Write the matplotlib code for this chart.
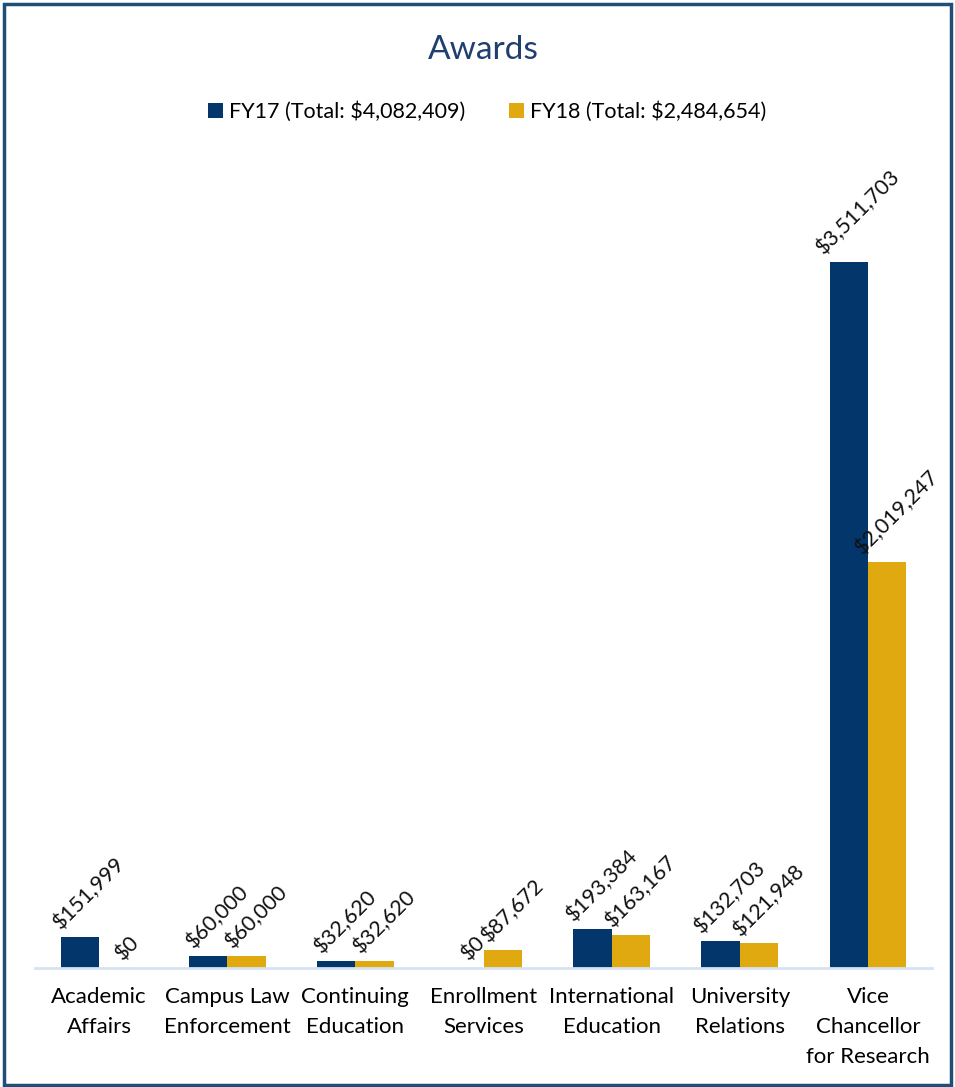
import numpy as np
import matplotlib.pyplot as plt
from matplotlib.patches import Rectangle

# data
categories = ["Academic\nAffairs", "Campus Law\nEnforcement", "Continuing\nEducation",
              "Enrollment\nServices", "International\nEducation", "University\nRelations",
              "Vice\nChancellor\nfor Research"]
fy17 = [151999, 60000, 32620, 0, 193384, 132703, 3511703]
fy18 = [0, 60000, 32620, 87672, 163167, 121948, 2019247]
series_names = ["FY17 (Total: $4,082,409)", "FY18 (Total: $2,484,654)"]

c17 = "#03366A"
c18 = "#E0A90F"
plt.rcParams['font.family'] = ['Lato', 'DejaVu Sans']

fig = plt.figure(figsize=(9.55, 10.87), dpi=100)
ax = fig.add_axes([0.0366, 0.1095, 0.9394, 0.7615])

x = np.arange(len(categories))
w = 0.3
b17 = ax.bar(x - w / 2, fy17, w, color=c17, label=series_names[0])
b18 = ax.bar(x + w / 2, fy18, w, color=c18, label=series_names[1])

for bars, vals in ((b17, fy17), (b18, fy18)):
    for r, v in zip(bars, vals):
        ax.annotate(f"${v:,.0f}", (r.get_x() + r.get_width() / 2, v),
                    xytext=(7, 3), textcoords="offset points",
                    rotation=45, ha="center", va="bottom", fontsize=15.5, color="#111111")

ax.set_xlim(-0.5, len(categories) - 0.5)
ax.set_ylim(0, 4.12e6)
ax.set_xticks(x)
ax.set_xticklabels(categories, fontsize=16, linespacing=1.6)
ax.tick_params(axis="x", length=0, pad=14)
ax.set_yticks([])
for s in ("top", "right", "left"):
    ax.spines[s].set_visible(False)
ax.spines["bottom"].set_color("#D6E3F3")
ax.spines["bottom"].set_linewidth(2)

fig.text(0.506, 0.954, "Awards", ha="center", va="center", fontsize=24, color="#1F3F6E")
fig.legend(loc="center", bbox_to_anchor=(0.51, 0.897), ncol=2, frameon=False,
           fontsize=15.5, handlelength=0.7, handleheight=0.7, handletextpad=0.3,
           columnspacing=2.0)

fig.patches.append(Rectangle((0.004, 0.002), 0.992, 0.994, transform=fig.transFigure,
                             fill=False, edgecolor="#1F4E79", linewidth=2.5))

fig.savefig("out.png", dpi=100)
